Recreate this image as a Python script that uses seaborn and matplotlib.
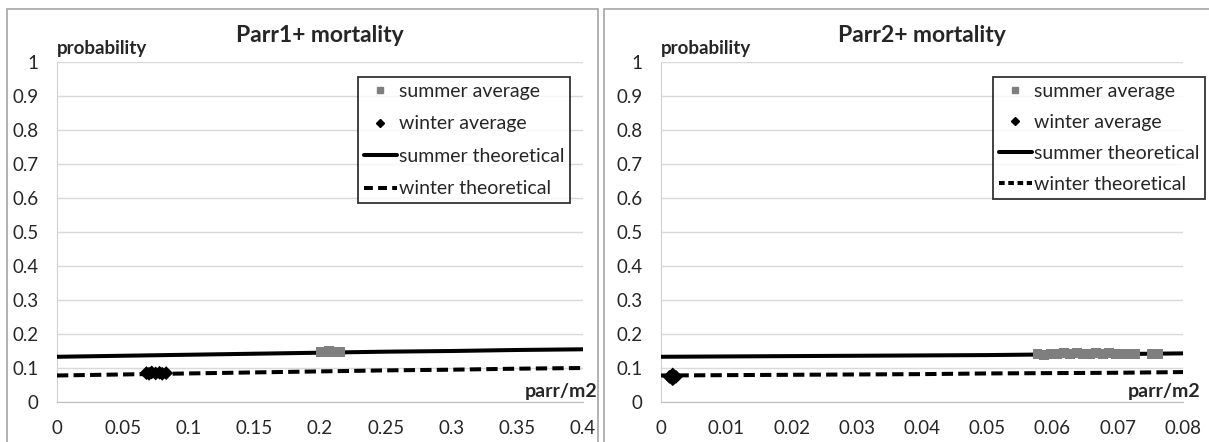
import numpy as np
import pandas as pd
import matplotlib
matplotlib.use("Agg")
import matplotlib.pyplot as plt
from matplotlib.patches import Rectangle
from matplotlib.lines import Line2D
import seaborn as sns

# --- data ---
# Parr1+ panel
p1_x_theory = [0, 0.05, 0.1, 0.15, 0.2, 0.25, 0.3, 0.35, 0.4]
p1_summer_theory = [0.133, 0.136, 0.139, 0.142, 0.145, 0.148, 0.150, 0.153, 0.155]
p1_winter_theory = [0.078, 0.081, 0.084, 0.087, 0.090, 0.093, 0.095, 0.098, 0.100]
p1_summer_avg_x = [0.201, 0.204, 0.207, 0.210, 0.213, 0.2155]
p1_summer_avg_y = [0.148, 0.147, 0.149, 0.148, 0.147, 0.148]
p1_winter_avg_x = [0.068, 0.070, 0.072, 0.075, 0.078, 0.080, 0.083]
p1_winter_avg_y = [0.085, 0.083, 0.087, 0.084, 0.086, 0.083, 0.085]

# Parr2+ panel
p2_x_theory = [0, 0.01, 0.02, 0.03, 0.04, 0.05, 0.06, 0.07, 0.08]
p2_summer_theory = [0.133, 0.134, 0.135, 0.136, 0.137, 0.138, 0.140, 0.141, 0.143]
p2_winter_theory = [0.078, 0.079, 0.080, 0.081, 0.082, 0.084, 0.085, 0.086, 0.088]
p2_summer_avg_x = [0.0577, 0.0587, 0.0597, 0.0607, 0.0617, 0.0627, 0.0637, 0.0647, 0.0657,
                   0.0667, 0.0677, 0.0687, 0.0697, 0.0707, 0.0717, 0.0727, 0.0752, 0.0762]
p2_summer_avg_y = [0.141, 0.139, 0.142, 0.140, 0.143, 0.141, 0.144, 0.140, 0.142, 0.145,
                   0.141, 0.143, 0.140, 0.142, 0.141, 0.142, 0.142, 0.141]
p2_winter_avg_x = [0.0013, 0.0018, 0.0023, 0.0018, 0.0016, 0.0020]
p2_winter_avg_y = [0.074, 0.067, 0.074, 0.081, 0.075, 0.072]

sns.set_style("white")
plt.rcParams['font.family'] = ['Lato', 'DejaVu Sans']

W, H = 1209, 442
fig = plt.figure(figsize=(W / 100, H / 100), dpi=100)

# outer chart frames
fig.patches.append(Rectangle((7 / W, -0.01), 591 / W, 1 - 9 / H + 0.01,
                             transform=fig.transFigure, fill=False, edgecolor='#a6a6a6', lw=1.2))
fig.patches.append(Rectangle((604 / W, -0.01), 620 / W, 1 - 9 / H + 0.01,
                             transform=fig.transFigure, fill=False, edgecolor='#a6a6a6', lw=1.2))

panels = [
    dict(rect=[57 / W, 40 / H, 526 / W, 340 / H], title='Parr1+ mortality',
         xt=p1_x_theory, st=p1_summer_theory, wt=p1_winter_theory,
         sx=p1_summer_avg_x, sy=p1_summer_avg_y, wx=p1_winter_avg_x, wy=p1_winter_avg_y,
         xmax=0.4, xticks=np.arange(0, 0.41, 0.05), unit_x=1.027,
         leg=(358 / W, 1 - 77 / H), dash=(2.8, 1.3), legdash=(2.2, 1.3), lsp=0.8),
    dict(rect=[661 / W, 40 / H, 522 / W, 340 / H], title='Parr2+ mortality',
         xt=p2_x_theory, st=p2_summer_theory, wt=p2_winter_theory,
         sx=p2_summer_avg_x, sy=p2_summer_avg_y, wx=p2_winter_avg_x, wy=p2_winter_avg_y,
         xmax=0.08, xticks=np.arange(0, 0.081, 0.01), unit_x=1.034,
         leg=(993 / W, 1 - 77 / H), dash=(2.8, 1.3), legdash=(1.4, 0.9), lsp=0.72),
]

for p in panels:
    ax = fig.add_axes(p['rect'])
    theory = pd.DataFrame({'x': p['xt'], 'summer': p['st'], 'winter': p['wt']})
    sns.lineplot(data=theory, x='x', y='summer', ax=ax, color='black', lw=2.9, zorder=3)
    sns.lineplot(data=theory, x='x', y='winter', ax=ax, color='black', lw=2.9, zorder=3)
    ax.lines[-1].set_dashes(p['dash'])
    sns.scatterplot(x=p['sx'], y=p['sy'], ax=ax, marker='s', color='#7f7f7f', s=50,
                    edgecolor='none', zorder=4)
    sns.scatterplot(x=p['wx'], y=p['wy'], ax=ax, marker='D', color='black', s=50,
                    edgecolor='none', zorder=4)

    ax.set_xlim(0, p['xmax'])
    ax.set_ylim(0, 1)
    yt = np.arange(0, 1.01, 0.1)
    ax.set_yticks(yt)
    ax.set_yticklabels([f'{v:g}' for v in np.round(yt, 1)], fontsize=13.5)
    ax.set_xticks(p['xticks'])
    ax.set_xticklabels([f'{v:g}' for v in np.round(p['xticks'], 3)], fontsize=13.5)
    ax.set_xlabel('')
    ax.set_ylabel('')
    ax.grid(axis='y', color='#d9d9d9', lw=1)
    for side in ['top', 'right']:
        ax.spines[side].set_visible(False)
    ax.spines['left'].set_color('#d0d0d0')
    ax.spines['bottom'].set_color('#bfbfbf')
    ax.tick_params(axis='x', direction='out', length=6, width=1, color='#bfbfbf', pad=7)
    ax.tick_params(axis='y', direction='out', length=4.3, width=1, color='#d9d9d9', pad=9)

    ax.text(0.5, 1.079, p['title'], transform=ax.transAxes, ha='center', va='center',
            fontsize=16.5, fontweight='bold')
    ax.text(0.0, 1.025, 'probability', transform=ax.transAxes, ha='left', va='baseline',
            fontsize=13.5, fontweight='bold')
    ax.text(p['unit_x'], 0.014, 'parr/m2', transform=ax.transAxes, ha='right', va='baseline',
            fontsize=14, fontweight='bold')

    handles = [
        Line2D([], [], ls='none', marker='s', color='#7f7f7f', ms=5),
        Line2D([], [], ls='none', marker='D', color='black', ms=4),
        Line2D([], [], color='black', lw=2.9),
        Line2D([], [], color='black', lw=2.9, dashes=p['legdash']),
    ]
    labels = ['summer average', 'winter average', 'summer theoretical', 'winter theoretical']
    leg = fig.legend(handles, labels, loc='upper left', bbox_to_anchor=p['leg'],
                     bbox_transform=fig.transFigure, frameon=True, fancybox=False,
                     edgecolor='black', fontsize=14, handlelength=1.7, handletextpad=0.1,
                     labelspacing=p['lsp'], borderpad=0.3, borderaxespad=0)
    leg.get_frame().set_linewidth(1.3)

fig.savefig('out.png', dpi=100)
